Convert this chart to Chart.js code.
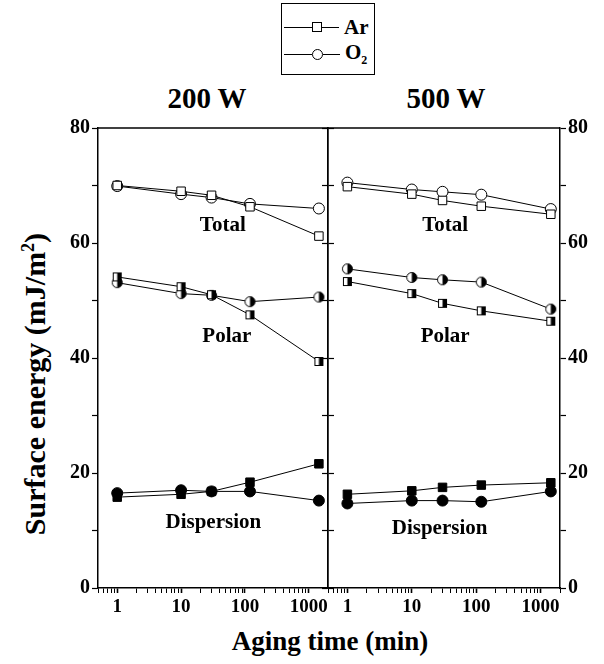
<!DOCTYPE html>
<html>
<head>
<meta charset="utf-8">
<script src="https://cdn.jsdelivr.net/npm/chart.js@4.4.1/dist/chart.umd.min.js"></script>
<style>
    body { margin: 0; background: #fff; width: 604px; height: 664px; position: relative; overflow: hidden; font-family: 'Liberation Serif', 'DejaVu Serif', serif; color: #000; }
    canvas { position: absolute; top: 0; }
    #left { left: 0; }
    #right { left: 321px; }
    .panel-title { position: absolute; top: 98px; transform: translate(-50%, -50%); font-weight: bold; font-size: 29px; white-space: nowrap; }
    #ytitle { position: absolute; left: 35px; top: 384px; transform: translate(-50%, -50%) rotate(-90deg); font-weight: bold; font-size: 30px; white-space: nowrap; }
    #xtitle { position: absolute; left: 330px; top: 641px; transform: translate(-50%, -50%); font-weight: bold; font-size: 27px; white-space: nowrap; }
    #legend { position: absolute; left: 281px; top: 3px; width: 94px; height: 72px; border: 1.5px solid #000; box-sizing: border-box; }
    .row { position: absolute; left: 2px; height: 20px; display: flex; align-items: center; }
    .ln { display: inline-block; border-top: 1px solid #000; }
    .mk { display: inline-block; width: 8px; height: 8px; border: 1px solid #000; background: #fff; }
    .mk.ci { border-radius: 50%; width: 9px; height: 9px; }
    .row b { font-size: 21px; margin-left: 5px; }
    .row sub { font-size: 12px; }
</style>
</head>
<body>
<div id="legend">
    <div class="row" style="top: 13px"><span class="ln" style="width: 28px"></span><span class="mk"></span><span class="ln" style="width: 17px"></span><b>Ar</b></div>
    <div class="row" style="top: 40px"><span class="ln" style="width: 28px"></span><span class="mk ci"></span><span class="ln" style="width: 17px"></span><b>O<sub>2</sub></b></div>
</div>
<div class="panel-title" style="left: 207px">200 W</div>
<div class="panel-title" style="left: 446px">500 W</div>
<div id="ytitle">Surface energy (mJ/m<sup style="font-size: 18px">2</sup>)</div>
<div id="xtitle">Aging time (min)</div>
<canvas id="left" width="335" height="664"></canvas>
<canvas id="right" width="283" height="664"></canvas>
<script>
// aging times (min)
const times = [1, 10, 30, 120, 1440]

// 200 W
const arTotal200 = [70.0, 69.0, 68.3, 66.3, 61.2]
const o2Total200 = [69.9, 68.5, 67.9, 66.8, 66.0]
const arPolar200 = [54.1, 52.4, 51.0, 47.5, 39.4]
const o2Polar200 = [53.1, 51.2, 50.9, 49.8, 50.6]
const arDisp200 = [15.8, 16.3, 16.8, 18.4, 21.6]
const o2Disp200 = [16.5, 17.0, 16.8, 16.8, 15.2]

// 500 W
const arTotal500 = [69.8, 68.5, 67.4, 66.4, 65.0]
const o2Total500 = [70.5, 69.3, 68.9, 68.4, 65.9]
const arPolar500 = [53.3, 51.2, 49.5, 48.2, 46.4]
const o2Polar500 = [55.5, 54.0, 53.6, 53.2, 48.5]
const arDisp500 = [16.3, 16.9, 17.5, 17.9, 18.3]
const o2Disp500 = [14.7, 15.2, 15.2, 15.0, 16.8]

const xTickLabels = [1, 10, 100, 1000]
const yTickLabels = [0, 20, 40, 60, 80]
const componentNames = ['Total', 'Polar', 'Dispersion']

Chart.defaults.font.family = "'Liberation Serif', serif"
Chart.defaults.font.weight = 'bold'
Chart.defaults.color = '#000'

// half filled markers (right half black)
function halfMarker(shape) {
    const c = document.createElement('canvas')
    c.width = 13
    c.height = 13
    const g = c.getContext('2d')
    g.lineWidth = 1
    g.strokeStyle = '#000'
    if (shape === 'circle') {
        g.beginPath(); g.arc(6.5, 6.5, 5, 0, Math.PI * 2); g.fillStyle = '#fff'; g.fill()
        g.beginPath(); g.arc(6.5, 6.5, 5, -Math.PI / 2, Math.PI / 2); g.fillStyle = '#000'; g.fill()
        g.beginPath(); g.arc(6.5, 6.5, 5, 0, Math.PI * 2); g.stroke()
    } else {
        g.fillStyle = '#fff'; g.fillRect(2.5, 2.5, 8, 8)
        g.fillStyle = '#000'; g.fillRect(6.5, 2.5, 4, 8)
        g.strokeRect(2.5, 2.5, 8, 8)
    }
    return c
}
const halfCircle = halfMarker('circle')
const halfSquare = halfMarker('square')

function series(vals, style, fill) {
    return {
        data: times.map((t, i) => ({ x: t, y: vals[i] })),
        borderColor: '#000',
        borderWidth: 1,
        pointStyle: style,
        pointRadius: style === 'rect' ? 6 : 5.5,
        pointBorderWidth: 1,
        pointBorderColor: '#000',
        pointBackgroundColor: fill,
        tension: 0
    }
}

function panelSets(ar, o2) {
    return [
        series(ar[0], 'rect', '#fff'),
        series(o2[0], 'circle', '#fff'),
        series(ar[1], halfSquare, '#000'),
        series(o2[1], halfCircle, '#000'),
        series(ar[2], 'rect', '#000'),
        series(o2[2], 'circle', '#000')
    ]
}

const notesPlugin = {
    id: 'notes',
    afterDatasetsDraw(chart, args, opts) {
        const { ctx, chartArea, scales } = chart
        ctx.save()
        // frame top line
        ctx.strokeStyle = '#000'
        ctx.lineWidth = 1.5
        ctx.beginPath()
        ctx.moveTo(chartArea.left, chartArea.top)
        ctx.lineTo(chartArea.right, chartArea.top)
        ctx.stroke()
        ctx.font = "bold 21px 'Liberation Serif', serif"
        ctx.fillStyle = '#000'
        ctx.textAlign = 'center'
        ctx.textBaseline = 'middle'
        opts.spots.forEach((s, i) => {
            ctx.fillText(componentNames[i], scales.x.getPixelForValue(s[0]), scales.y.getPixelForValue(s[1]))
        })
        ctx.restore()
    }
}

const isDecade = v => xTickLabels.includes(v)

// log minor ticks 1..9 per decade inside the axis range
function logTicks(min, max) {
    const out = []
    for (let e = -1; e <= 3; e++) {
        for (let s = 1; s <= 9; s++) {
            const v = Number((s * Math.pow(10, e)).toPrecision(3))
            if (v >= min && v <= max) out.push({ value: v, major: s === 1 })
        }
    }
    return out
}

function xAxis() {
    return {
        type: 'logarithmic',
        min: 0.5,
        max: 2000,
        position: 'bottom',
        afterFit: s => { s.height = 76 },
        afterBuildTicks: s => { s.ticks = logTicks(0.5, 2000) },
        border: { color: '#000', width: 1.5 },
        grid: {
            drawOnChartArea: false,
            tickLength: 5,
            tickColor: '#000',
            tickWidth: ctx => ctx.tick && isDecade(ctx.tick.value) ? 1.6 : 1
        },
        ticks: {
            autoSkip: false,
            maxRotation: 0,
            padding: 3,
            font: { size: 19, weight: 'bold' },
            callback: v => isDecade(v) ? String(v) : ''
        }
    }
}

function yAxis(position, labels, width) {
    return {
        type: 'linear',
        position: position,
        min: 0,
        max: 80,
        afterFit: s => { s.width = width },
        border: { color: '#000', width: 1.5 },
        grid: { drawOnChartArea: false, tickLength: 6, tickColor: '#000', tickWidth: 1.2 },
        ticks: {
            display: labels,
            stepSize: 10,
            padding: 2,
            font: { size: 20, weight: 'bold' },
            callback: v => yTickLabels.includes(v) ? String(v) : ''
        }
    }
}

function commonOptions(scales, spots) {
    return {
        responsive: false,
        animation: false,
        layout: { padding: { top: 128, left: 0, right: 0, bottom: 0 } },
        scales: scales,
        plugins: {
            legend: { display: false },
            tooltip: { enabled: false },
            notes: { spots: spots }
        }
    }
}

new Chart(document.getElementById('left'), {
    type: 'line',
    data: { datasets: panelSets([arTotal200, arPolar200, arDisp200], [o2Total200, o2Polar200, o2Disp200]) },
    options: commonOptions({
        x: xAxis(),
        y: yAxis('left', true, 98),
        yR: yAxis('right', false, 7)
    }, [[45, 63], [52, 43.7], [32, 11.3]]),
    plugins: [notesPlugin]
})

new Chart(document.getElementById('right'), {
    type: 'line',
    data: { datasets: panelSets([arTotal500, arPolar500, arDisp500], [o2Total500, o2Polar500, o2Disp500]) },
    options: commonOptions({
        x: xAxis(),
        yL: yAxis('left', false, 7),
        y: yAxis('right', true, 44)
    }, [[33, 63], [33, 43.7], [27, 10.4]]),
    plugins: [notesPlugin]
})
</script>
</body>
</html>
